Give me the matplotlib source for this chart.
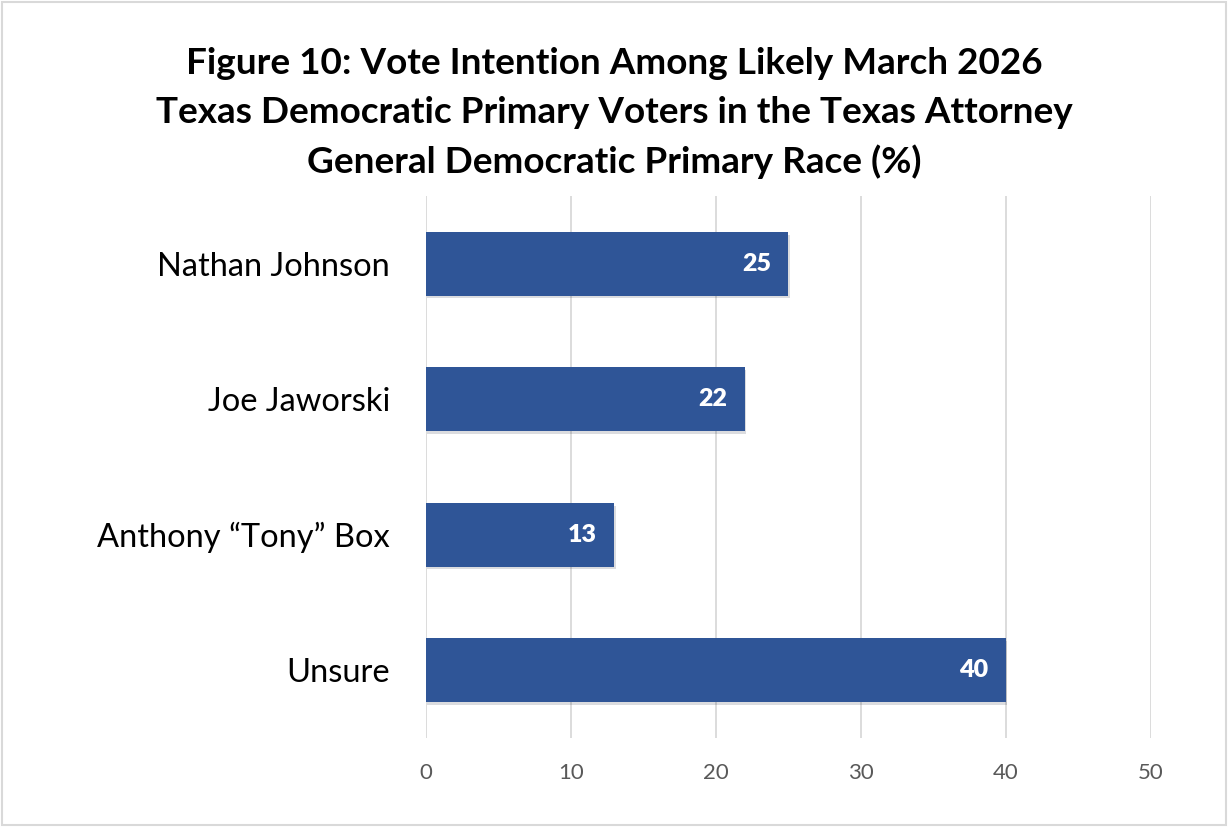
#plot.py
#figure 10: AG democratic primary vote intention
import matplotlib.pyplot as plt
import matplotlib.patheffects as pe
from matplotlib.patches import Rectangle

plt.rcParams['font.family'] = ['Lato', 'DejaVu Sans']

candidates = ["Nathan Johnson", "Joe Jaworski", "Anthony \u201cTony\u201d Box", "Unsure"]
votes = [25, 22, 13, 40]
x_ticks = [0, 10, 20, 30, 40, 50]

bar_color = "#2F5597"

fig = plt.figure(figsize=(12.28, 8.27), dpi=100)
ax = fig.add_axes([0.3469, 0.1076, 0.5904, 0.6554])

pos = list(range(len(candidates)))
bars = ax.barh(pos, votes, height=0.47, color=bar_color, zorder=3)
for b in bars:
    b.set_path_effects([pe.SimplePatchShadow(offset=(1, -2), alpha=0.15), pe.Normal()])

#value labels inside bar end
for p, v in zip(pos, votes):
    ax.text(v - 1.2, p, str(v), ha="right", va="center", color="white",
            fontsize=18, fontweight="heavy", zorder=4)

ax.set_xlim(0, 50)
ax.set_ylim(len(candidates) - 0.5, -0.5)
ax.set_yticks(pos)
ax.set_yticklabels(candidates, fontsize=23.5)
ax.set_xticks(x_ticks)
ax.set_xticklabels([str(t) for t in x_ticks], fontsize=16, color="#595959")
ax.tick_params(axis="both", length=0)
ax.tick_params(axis="y", pad=26)
ax.tick_params(axis="x", pad=18)
ax.grid(axis="x", color="#D9D9D9", linewidth=1.3, zorder=0)
for s in ax.spines.values():
    s.set_visible(False)

fig.text(0.5, 0.863, "Figure 10: Vote Intention Among Likely March 2026\n"
         "Texas Democratic Primary Voters in the Texas Attorney\n"
         "General Democratic Primary Race (%)",
         ha="center", va="center", fontsize=26.6, fontweight="bold", linespacing=1.57)

#light border round the chart
fig.patches.append(Rectangle((0.002, 0.002), 0.996, 0.996, transform=fig.transFigure,
                             fill=False, edgecolor="#D9D9D9", linewidth=1.5))

fig.savefig("out.png", dpi=100)
